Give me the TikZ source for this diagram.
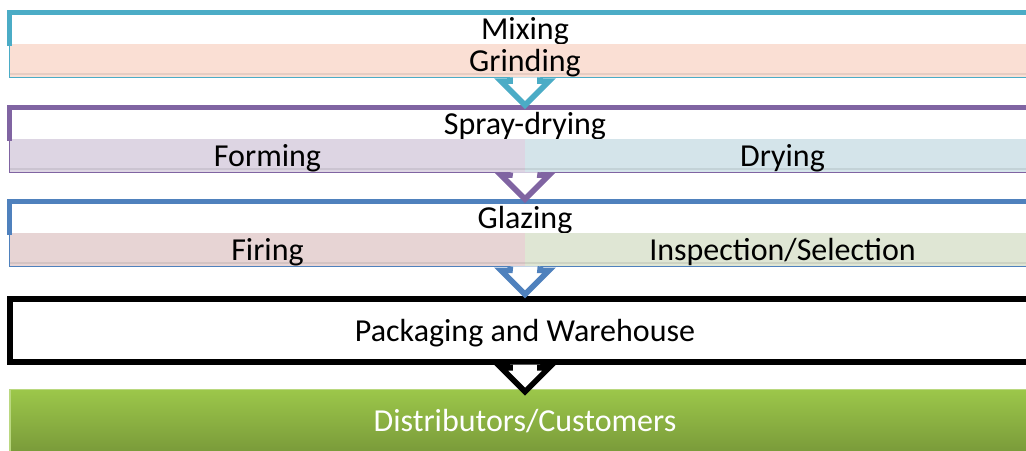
\documentclass[tikz,border=0pt]{standalone}
\usepackage{fontspec}
\setmainfont{Carlito}
\usetikzlibrary{positioning, calc}

\definecolor{mixline}{HTML}{4BACC6}
\definecolor{sprayline}{HTML}{8064A2}
\definecolor{glazeline}{HTML}{4F81BD}
\definecolor{grindfill}{HTML}{FADFD4}
\definecolor{formfill}{HTML}{DDD5E3}
\definecolor{dryfill}{HTML}{D4E4EA}
\definecolor{firefill}{HTML}{E7D4D4}
\definecolor{inspectfill}{HTML}{DFE6D4}
\definecolor{disttop}{HTML}{9CC74A}
\definecolor{distbottom}{HTML}{7A9B3A}

% hollow block arrow between two stages
\newcommand{\stagearrow}[4]{%
  \draw[arrowline, draw=#4]
    ($(#1)+(-15,0)$) -- ($(#2)+(-15,#3-24)$) -- ($(#2)+(-24,#3-24)$)
    -- ($(#2)+(0,#3)$)
    -- ($(#2)+(24,#3-24)$) -- ($(#2)+(15,#3-24)$) -- ($(#1)+(15,0)$);}

\begin{document}
\begin{tikzpicture}[x=0.5pt, y=-0.5pt,
    % Define styles
    headbox/.style={rectangle, minimum width=515pt, minimum height=16pt, inner sep=0pt, text height=13.5pt, text depth=3pt, font=\fontsize{16}{19}\selectfont},
    stripbox/.style={headbox, minimum height=15.5pt},
    halfbox/.style={stripbox, minimum width=257.5pt},
    stripshade/.style={line width=1pt, draw=black, opacity=0.08},
    thickedge/.style={line width=2.6pt},
    thinedge/.style={line width=0.8pt},
    arrowline/.style={line width=2.8pt, fill=white, line join=miter}
    ]
    \useasboundingbox (0,0) rectangle (1026,450);
    \clip (0,0) rectangle (1026,450);

    % Stage 1
    \node[headbox] (mix) at (525,29) {Mixing};
    \node[stripbox, fill=grindfill] (grind) at (525,60.5) {Grinding};
    \draw[stripshade] ([yshift=1.5pt]grind.south west) -- ([yshift=1.5pt]grind.south east);
    \draw[thinedge, mixline] (mix.north west) rectangle (grind.south east);
    \draw[thickedge, mixline] (mix.south west) -- (mix.north west) -- (mix.north east);

    % Stage 2
    \node[headbox] (spray) at (525,124) {Spray-drying};
    \node[halfbox, fill=formfill] (forming) at (267.5,155.5) {Forming};
    \node[halfbox, fill=dryfill] (drying) at (782.5,155.5) {Drying};
    \draw[stripshade] ([yshift=1.5pt]forming.south west) -- ([yshift=1.5pt]drying.south east);
    \draw[thinedge, sprayline] (spray.north west) rectangle (drying.south east);
    \draw[thickedge, sprayline] (spray.south west) -- (spray.north west) -- (spray.north east);

    % Stage 3
    \node[headbox] (glazing) at (525,218) {Glazing};
    \node[halfbox, fill=firefill] (firing) at (267.5,249.5) {Firing};
    \node[halfbox, fill=inspectfill] (inspect) at (782.5,249.5) {Inspection/Selection};
    \draw[stripshade] ([yshift=1.5pt]firing.south west) -- ([yshift=1.5pt]inspect.south east);
    \draw[thinedge, glazeline] (glazing.north west) rectangle (inspect.south east);
    \draw[thickedge, glazeline] (glazing.south west) -- (glazing.north west) -- (glazing.north east);

    % Packaging and customers
    \node[stripbox, draw=black, thickedge, minimum height=31.5pt] (pack) at (525,330.5) {Packaging and Warehouse};
    \node[stripbox, top color=disttop, bottom color=distbottom, draw=disttop!70!white, thinedge, minimum height=31pt, text=white] (dist) at (525,420.5) {Distributors/Customers};

    % Arrows between stages
    \stagearrow{grind.south}{spray.north}{-2}{mixline}
    \stagearrow{forming.south east}{glazing.north}{-2}{sprayline}
    \stagearrow{firing.south east}{pack.north}{-2}{glazeline}
    \stagearrow{pack.south}{dist.north}{3}{black}
\end{tikzpicture}
\end{document}
